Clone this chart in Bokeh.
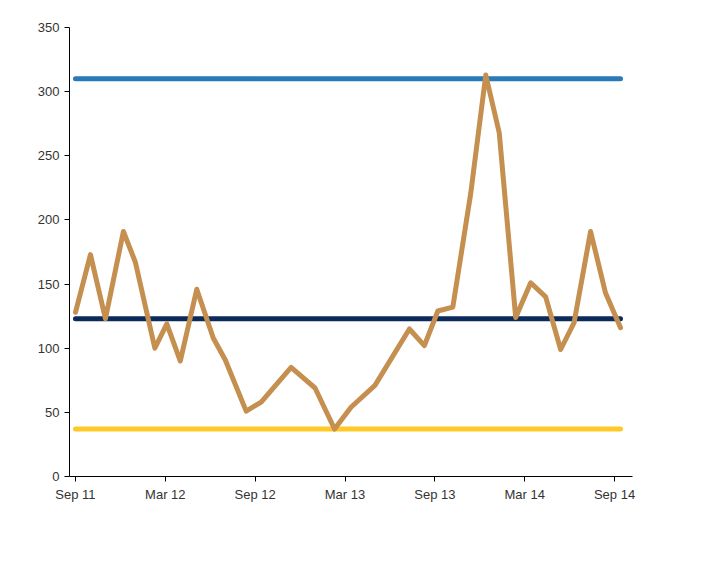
from bokeh.plotting import figure
from bokeh.models import Legend, LegendItem, FixedTicker, Range1d
from bokeh.embed import file_html
from bokeh.resources import INLINE

months = [0, 1, 2, 3.2, 4, 5.3, 6.1, 7, 8.1, 9.2, 10, 11.4, 12.4, 14.4, 16, 17.3, 18.4, 20,
          22.3, 23.3, 24.2, 25.2, 26.4, 27.4, 28.3, 29.4, 30.4, 31.4, 32.4, 33.3, 34.4, 35.4, 36.4]
index = [128, 173, 123, 191, 167, 100, 119, 90, 146, 108, 91, 51, 58, 85, 69, 37, 54, 71,
         115, 102, 129, 132, 221, 313, 268, 124, 151, 140, 99, 120, 191, 143, 116]
high, low, avg = 310, 37, 123
tick_pos = [0, 6, 12, 18, 24, 30, 36]
tick_labels = ["Sep 11", "Mar 12", "Sep 12", "Mar 13", "Sep 13", "Mar 14", "Sep 14"]

span = [months[0], months[-1]]
p = figure(frame_width=563, frame_height=449, output_backend="svg", toolbar_location=None,
           x_range=Range1d(-0.4, 37.2), y_range=Range1d(0, 350),
           min_border_left=69, min_border_top=27, min_border_right=40, min_border_bottom=10)
p.grid.visible = False
p.outline_line_color = None
font = "Liberation Sans"

r1 = p.line(span, [high, high], line_color="#2a7ab8", line_width=5, line_cap="round")
r2 = p.line(span, [low, low], line_color="#ffc928", line_width=5, line_cap="round")
r3 = p.line(span, [avg, avg], line_color="#0d2a5c", line_width=5, line_cap="round")
r4 = p.line(months, index, line_color="#c48f4f", line_width=5, line_join="round", line_cap="round")

p.xaxis.ticker = FixedTicker(ticks=tick_pos)
p.xaxis.major_label_overrides = {t: l for t, l in zip(tick_pos, tick_labels)}
p.yaxis.ticker = FixedTicker(ticks=list(range(0, 351, 50)))
for ax in (p.xaxis, p.yaxis):
    ax.minor_tick_line_color = None
    ax.major_label_text_font = font
    ax.major_label_text_font_size = "13px"
    ax.major_label_text_color = "#333333"
    ax.axis_line_color = "black"
    ax.major_tick_line_color = "black"
    ax.major_tick_out = 5
    ax.major_tick_in = 0

legend = Legend(items=[LegendItem(label="3-Yr High", renderers=[r1]),
                       LegendItem(label="3-Yr Low", renderers=[r2]),
                       LegendItem(label="3-Yr Avg", renderers=[r3]),
                       LegendItem(label="Index", renderers=[r4])],
                orientation="horizontal", border_line_color=None,
                label_text_font=font, label_text_font_size="13px",
                glyph_width=55, spacing=25, margin=8, padding=6)
p.add_layout(legend, "below")

open("out.html", "w").write(file_html(p, INLINE))
